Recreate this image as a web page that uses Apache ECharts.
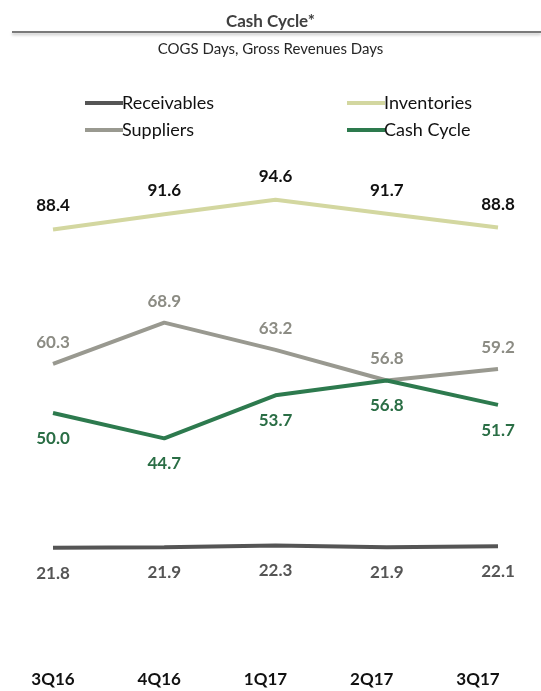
<!DOCTYPE html>
<html>
<head>
<meta charset="utf-8">
<title>Cash Cycle</title>
<script src="https://cdn.jsdelivr.net/npm/echarts@6/dist/echarts.min.js"></script>
<style>
  html, body { margin: 0; padding: 0; background: #fff; }
  #chart { width: 541px; height: 691px; }
</style>
</head>
<body>
<div id="chart"></div>
<script>
// Quarterly periods
const quarters = ['3Q16', '4Q16', '1Q17', '2Q17', '3Q17'];

// Days per metric
const receivables = [21.8, 21.9, 22.3, 21.9, 22.1];
const inventories = [88.4, 91.6, 94.6, 91.7, 88.8];
const suppliers = [60.3, 68.9, 63.2, 56.8, 59.2];
const cashCycle = [50.0, 44.7, 53.7, 56.8, 51.7];

const FONT = 'Lato, "Noto Sans", sans-serif';

function lineSeries(name, data, color, labelColor, pos, dist, z) {
  return {
    name: name,
    type: 'line',
    xAxisIndex: 0,
    yAxisIndex: 0,
    data: data,
    symbol: 'circle',
    symbolSize: 0,
    z: z,
    itemStyle: { color: color },
    lineStyle: { color: color, width: 4 },
    label: {
      show: true,
      position: pos,
      distance: dist,
      color: labelColor,
      fontFamily: FONT,
      fontWeight: 'bold',
      fontSize: 17,
      formatter: p => p.value.toFixed(1)
    },
    emphasis: { disabled: true }
  };
}

const legendText = {
  fontFamily: FONT,
  fontSize: 18,
  color: '#111',
  lineHeight: 20,
  padding: [0, 0, 0, -6]
};

const chart = echarts.init(document.getElementById('chart'), null, { renderer: 'canvas' });

chart.setOption({
  backgroundColor: '#ffffff',
  animation: false,
  title: [
    {
      text: 'Cash Cycle*',
      left: 'center',
      top: 8,
      textStyle: { fontFamily: FONT, fontWeight: 'bold', fontSize: 17, color: '#404040' }
    },
    {
      text: 'COGS Days, Gross Revenues Days',
      left: 'center',
      top: 37,
      textStyle: { fontFamily: FONT, fontWeight: 'normal', fontSize: 15, color: '#262626' }
    }
  ],
  graphic: [
    {
      type: 'line',
      shape: { x1: 12, y1: 32, x2: 541, y2: 32 },
      style: { stroke: '#7a7a7a', lineWidth: 2, shadowBlur: 3, shadowColor: 'rgba(0,0,0,0.25)', shadowOffsetY: 2 }
    }
  ],
  legend: [
    {
      data: ['Receivables', 'Suppliers'],
      orient: 'vertical',
      left: 80,
      top: 88,
      icon: 'rect',
      itemWidth: 38,
      itemHeight: 4,
      itemGap: 7,
      selectedMode: false,
      textStyle: legendText
    },
    {
      data: ['Inventories', 'Cash Cycle'],
      orient: 'vertical',
      left: 342,
      top: 88,
      icon: 'rect',
      itemWidth: 38,
      itemHeight: 4,
      itemGap: 7,
      selectedMode: false,
      textStyle: legendText
    }
  ],
  grid: [
    { left: 53, right: 43, top: 174, bottom: 39 },
    { left: 53, right: 63, top: 174, bottom: 39 }
  ],
  xAxis: [
    {
      type: 'category',
      gridIndex: 0,
      data: quarters,
      boundaryGap: false,
      axisLine: { show: false },
      axisTick: { show: false },
      axisLabel: { show: false },
      splitLine: { show: false }
    },
    {
      type: 'category',
      gridIndex: 1,
      data: quarters,
      boundaryGap: false,
      axisLine: { show: false },
      axisTick: { show: false },
      splitLine: { show: false },
      axisLabel: {
        margin: 19,
        fontFamily: FONT,
        fontWeight: 'bold',
        fontSize: 17,
        color: '#111'
      }
    }
  ],
  yAxis: [
    { type: 'value', gridIndex: 0, min: 0, max: 100, show: false, splitLine: { show: false } },
    { type: 'value', gridIndex: 1, min: 0, max: 100, show: false, splitLine: { show: false } }
  ],
  series: [
    lineSeries('Receivables', receivables, '#555555', '#555555', 'bottom', 17, 2),
    lineSeries('Inventories', inventories, '#d3d7a0', '#111111', 'top', 15, 2),
    lineSeries('Suppliers', suppliers, '#999990', '#8c8c84', 'top', 13, 2),
    lineSeries('Cash Cycle', cashCycle, '#2d7a4e', '#2a6e45', 'bottom', 17, 3)
  ]
});
</script>
</body>
</html>
